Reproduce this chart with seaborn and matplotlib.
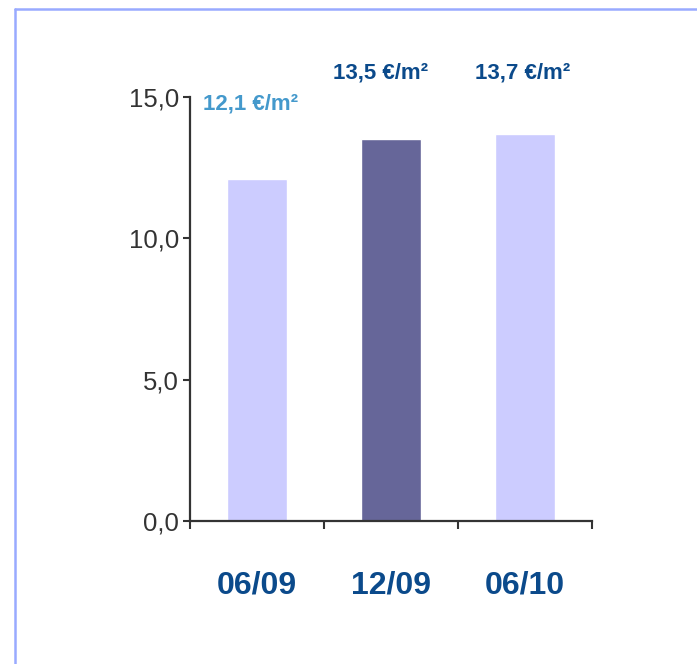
import matplotlib
matplotlib.use("Agg")
import matplotlib.pyplot as plt
from matplotlib.lines import Line2D
import seaborn as sns
import pandas as pd

# Average rent per period
periods = ["06/09", "12/09", "06/10"]
rents = [12.1, 13.5, 13.7]
bar_colors = ["#CCCCFF", "#666699", "#CCCCFF"]
label_colors = ["#4499CC", "#0B4A8B", "#0B4A8B"]
y_ticks = [0.0, 5.0, 10.0, 15.0]

sns.set_theme(style="white")
plt.rcParams["font.family"] = ["Liberation Sans", "DejaVu Sans"]

df = pd.DataFrame({"period": periods, "rent": rents})

fig = plt.figure(figsize=(6.97, 6.64), dpi=100)
ax = fig.add_axes([0.2726, 0.2154, 0.5768, 0.6385])

sns.barplot(data=df, x="period", y="rent", hue="period", palette=bar_colors,
            width=0.45, saturation=1, legend=False, ax=ax)

ax.set_xlim(-0.5, 2.5)
ax.set_ylim(0, 15)
ax.set_xlabel("")
ax.set_ylabel("")

for side in ("top", "right"):
    ax.spines[side].set_visible(False)
for side in ("left", "bottom"):
    ax.spines[side].set_color("#333333")
    ax.spines[side].set_linewidth(1.6)

ax.set_yticks(y_ticks)
ax.set_yticklabels([f"{v:.1f}".replace(".", ",") for v in y_ticks],
                   fontsize=18.5, color="#333333")
ax.tick_params(axis="y", which="major", direction="out", length=5, width=1.5,
               color="#333333", pad=3, left=True)

# category labels below, boundary ticks between categories
ax.set_xticks(range(len(periods)))
ax.set_xticklabels(periods, fontsize=23, fontweight="bold", color="#0B4A8B")
ax.tick_params(axis="x", which="major", length=0, pad=36)
ax.set_xticks([-0.5, 0.5, 1.5, 2.5], minor=True)
ax.tick_params(axis="x", which="minor", direction="out", length=6, width=1.5,
               color="#333333", bottom=True)

# value labels above the bars
label_y = [14.75, 15.85, 15.85]
label_dx = [-0.05, -0.08, -0.02]
for i, (v, c) in enumerate(zip(rents, label_colors)):
    ax.text(i + label_dx[i], label_y[i], f"{v:.1f}".replace(".", ",") + " €/m²",
            ha="center", va="center", fontsize=16, fontweight="bold",
            color=c, clip_on=False)

# frame lines along the top and left of the figure
frame_color = "#99AAFF"
fig.add_artist(Line2D([15 / 697, 1.0], [1 - 9 / 664, 1 - 9 / 664],
                      transform=fig.transFigure, color=frame_color, linewidth=1.8))
fig.add_artist(Line2D([15 / 697, 15 / 697], [0.0, 1 - 9 / 664],
                      transform=fig.transFigure, color=frame_color, linewidth=1.8))

fig.savefig("out.png", dpi=100)
